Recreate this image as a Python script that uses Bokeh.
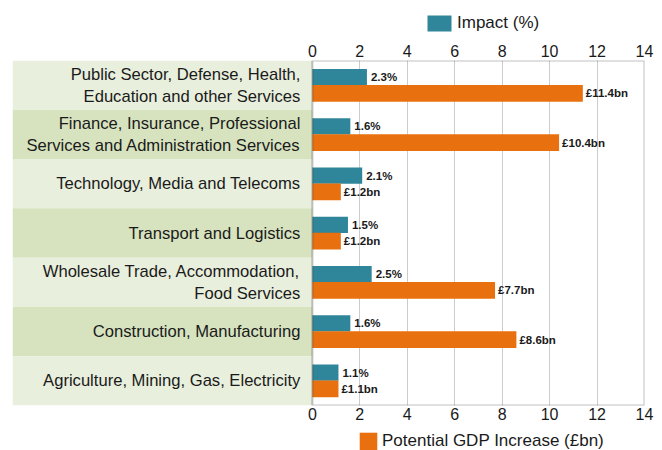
from bokeh.plotting import figure
from bokeh.layouts import column
from bokeh.models import (ColumnDataSource, Range1d, LinearAxis, FixedTicker,
                          Legend, LegendItem, BoxAnnotation)
from bokeh.core.properties import value
from bokeh.embed import file_html
from bokeh.resources import INLINE

# ---- data ----
categories = [
    "Public Sector, Defense, Health,\nEducation and other Services",
    "Finance, Insurance, Professional\nServices and Administration Services",
    "Technology, Media and Telecoms",
    "Transport and Logistics",
    "Wholesale Trade, Accommodation,\nFood Services",
    "Construction, Manufacturing",
    "Agriculture, Mining, Gas, Electricity",
]
impact_pct = [2.3, 1.6, 2.1, 1.5, 2.5, 1.6, 1.1]
gdp_bn = [11.4, 10.4, 1.2, 1.2, 7.7, 8.6, 1.1]
impact_labels = ["2.3%", "1.6%", "2.1%", "1.5%", "2.5%", "1.6%", "1.1%"]
gdp_labels = ["£11.4bn", "£10.4bn", "£1.2bn", "£1.2bn", "£7.7bn", "£8.6bn", "£1.1bn"]
x_ticks = [0, 2, 4, 6, 8, 10, 12, 14]
series_names = ["Impact (%)", "Potential GDP Increase (£bn)"]

# ---- style ----
TEAL = "#2F8599"
ORANGE = "#E9700F"
BAND_LIGHT = "#E9EFDD"
BAND_DARK = "#D7E3BF"
FONT = "Liberation Sans"
TXT = "#1a1a1a"
W = 662

n = len(categories)
X_MIN = -12.64
X_MAX = 14

rows = [i + 0.5 for i in range(n)]
src = ColumnDataSource(dict(
    cat=categories,
    row=rows,
    y_imp=[r - 0.165 for r in rows],
    y_gdp=[r + 0.165 for r in rows],
    imp=impact_pct,
    gdp=gdp_bn,
    imp_lab=impact_labels,
    gdp_lab=gdp_labels,
    band=[BAND_LIGHT if i % 2 == 0 else BAND_DARK for i in range(n)],
    zero=[0] * n,
    xmin=[X_MIN] * n,
))

p = figure(width=W, height=390, output_backend="svg", toolbar_location=None,
           x_range=Range1d(X_MIN, X_MAX), y_range=Range1d(n, 0),
           x_axis_location=None, y_axis_location=None,
           min_border_left=12, min_border_right=18,
           min_border_top=24, min_border_bottom=21)
p.outline_line_color = None
p.background_fill_color = "white"

# grid
p.xgrid.ticker = FixedTicker(ticks=x_ticks[1:-1])
p.xgrid.grid_line_color = "#cccccc"
p.xgrid.grid_line_width = 1
p.ygrid.grid_line_color = None

# bands behind category labels
p.hbar(y="row", left="xmin", right="zero", height=1, fill_color="band",
       line_color=None, source=src)

# bars
p.hbar(y="y_imp", left=0, right="imp", height=0.33, fill_color=TEAL,
       line_color=None, source=src)
p.hbar(y="y_gdp", left=0, right="gdp", height=0.34, fill_color=ORANGE,
       line_color=None, source=src)

# frame border
p.add_layout(BoxAnnotation(left=0, right=14, bottom=0, top=n, fill_alpha=0,
                           line_color="#333333", line_width=2))

# category labels
p.text(x="zero", y="row", text="cat", source=src, x_offset=-12,
       text_align="right", text_baseline="middle", text_font_size="16.6px",
       text_color=TXT, text_font=value(FONT), text_line_height=1.17)

# bar value labels
p.text(x="imp", y="y_imp", text="imp_lab", source=src, x_offset=4,
       text_align="left", text_baseline="middle", text_font_size="11.5px",
       text_font_style="bold", text_color=TXT, text_font=value(FONT))
p.text(x="gdp", y="y_gdp", text="gdp_lab", source=src, x_offset=3,
       text_align="left", text_baseline="middle", text_font_size="11.5px",
       text_font_style="bold", text_color=TXT, text_font=value(FONT))

# axes (top and bottom)
def make_axis(standoff):
    ax = LinearAxis(ticker=FixedTicker(ticks=x_ticks))
    ax.axis_line_color = None
    ax.major_tick_line_color = None
    ax.minor_tick_line_color = None
    ax.major_tick_out = 0
    ax.major_tick_in = 0
    ax.major_label_text_font = FONT
    ax.major_label_text_font_size = "16px"
    ax.major_label_text_color = TXT
    ax.major_label_standoff = standoff
    return ax

p.add_layout(make_axis(4), "above")
p.add_layout(make_axis(2), "below")


# legend strips (above and below the chart)
def legend_strip(height, label, color, gw, gh, loc):
    f = figure(width=W, height=height, output_backend="svg", toolbar_location=None,
               x_range=Range1d(0, W), y_range=Range1d(0, height),
               x_axis_location=None, y_axis_location=None,
               min_border=0)
    f.outline_line_color = None
    f.xgrid.grid_line_color = None
    f.ygrid.grid_line_color = None
    # zero-size proxy glyph: only used to give the legend its swatch colour
    proxy = ColumnDataSource(dict(y=[0], left=[0], right=[0]))
    r = f.hbar(y="y", left="left", right="right", height=0, source=proxy,
               fill_color=color, line_color=None)
    leg = Legend(items=[LegendItem(label=label, renderers=[r], index=0)],
                 orientation="horizontal", location=loc,
                 glyph_width=gw, glyph_height=gh, label_standoff=3,
                 label_text_font=FONT, label_text_font_size="17px",
                 label_text_color=TXT, padding=0, margin=0, spacing=0,
                 border_line_color=None, background_fill_alpha=0)
    f.add_layout(leg)
    return f

top = legend_strip(36, series_names[0], TEAL, 30, 20, (412, 3))
bottom = legend_strip(24, series_names[1], ORANGE, 22, 22, (345, -2))

layout = column(top, p, bottom, spacing=0)
open("out.html", "w").write(file_html(layout, INLINE))
